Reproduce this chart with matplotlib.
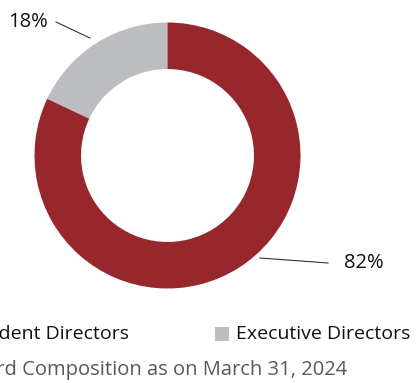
import matplotlib
matplotlib.use("Agg")
import matplotlib.pyplot as plt

categories = ["Executive Directors", "Independent Directors"]
shares = [18, 82]
colors = ["#BCBDC0", "#97272D"]
legend_order = ["Independent Directors", "Executive Directors"]
title = "Board Composition as on March 31, 2024"

W, H = 416, 383
fig = plt.figure(figsize=(W / 100, H / 100), dpi=100)
plt.rcParams["font.family"] = ["Open Sans", "DejaVu Sans"]

def fx(px):
    return px / W

def fy(py):
    return 1 - py / H

# donut: centre (167.5, 155.5) px, outer radius 133 px
cx, cy, R = 167.5, 155.5, 133
lim = 1.05
half = R * lim
ax = fig.add_axes([fx(cx - half), fy(cy + half), 2 * half / W, 2 * half / H])
ax.pie(shares, colors=colors, startangle=90, counterclock=True,
       radius=1, wedgeprops=dict(width=0.35, linewidth=0), frame=True)
ax.set_xlim(-lim, lim)
ax.set_ylim(-lim, lim)
ax.axis("off")

# percentage labels with leader lines (figure pixel coordinates)
line_kw = dict(color="#333333", linewidth=0.8, transform=fig.transFigure)
fig.add_artist(plt.Line2D([fx(56), fx(90)], [fy(22), fy(38)], **line_kw))
fig.text(fx(48), fy(22), f"{shares[0]}%", ha="right", va="center",
         fontsize=14.5, color="#111111")
fig.add_artist(plt.Line2D([fx(260), fx(328)], [fy(258), fy(263)], **line_kw))
fig.text(fx(344), fy(263), f"{shares[1]}%", ha="left", va="center",
         fontsize=14.5, color="#111111")

# legend
leg_y = 334
fig.text(fx(129), fy(leg_y), legend_order[0], ha="right", va="center",
         fontsize=14, color="#111111")
fig.add_artist(plt.Rectangle((fx(215), fy(leg_y + 7)), 14 / W, 14 / H,
                             color=colors[categories.index(legend_order[1])],
                             transform=fig.transFigure, linewidth=0))
fig.text(fx(236), fy(leg_y), legend_order[1], ha="left", va="center",
         fontsize=14, color="#111111")

# caption
fig.text(fx(347), fy(370), title, ha="right", va="center",
         fontsize=14.5, color="#58595B")

fig.savefig("out.png", dpi=100)
